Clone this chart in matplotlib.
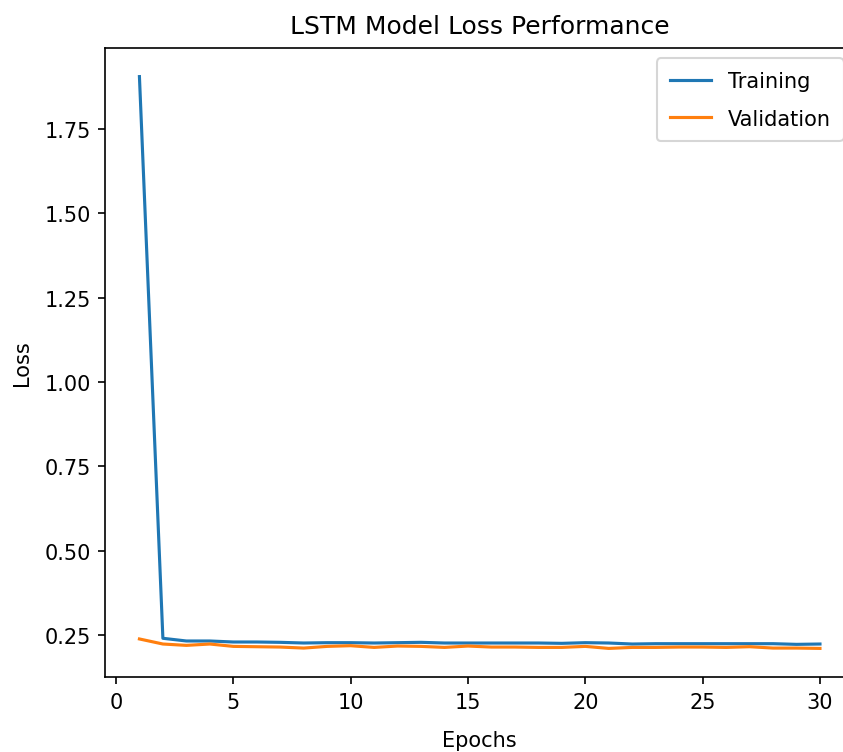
import matplotlib
matplotlib.use("Agg")
import matplotlib.pyplot as plt

epochs = list(range(1, 31))
training = [1.905, 0.240, 0.232, 0.232, 0.229, 0.229, 0.228, 0.226, 0.227, 0.227,
            0.226, 0.227, 0.228, 0.226, 0.226, 0.226, 0.226, 0.226, 0.225, 0.227,
            0.226, 0.223, 0.224, 0.224, 0.224, 0.224, 0.224, 0.224, 0.222, 0.223]
validation = [0.238, 0.223, 0.219, 0.223, 0.216, 0.215, 0.214, 0.211, 0.216, 0.218,
              0.213, 0.217, 0.216, 0.213, 0.217, 0.214, 0.214, 0.213, 0.213, 0.216,
              0.210, 0.213, 0.213, 0.214, 0.214, 0.213, 0.215, 0.211, 0.211, 0.210]

fig = plt.figure(figsize=(843/150, 753/150), dpi=150)
ax = fig.add_axes([105.4/843, 75/753, (854-105.4)/843, (678-49)/753])
ax.plot(epochs, training, label="Training")
ax.plot(epochs, validation, label="Validation")
ax.set_title("LSTM Model Loss Performance", fontsize=12, pad=7)
ax.set_xlabel("Epochs", fontsize=10, labelpad=9)
ax.set_ylabel("Loss", fontsize=10, labelpad=6)
ax.tick_params(labelsize=10)
ax.spines["right"].set_visible(False)
ax.legend(loc="upper right", fontsize=10, labelspacing=0.85, borderpad=0.6)
fig.savefig("out.png", dpi=150)
